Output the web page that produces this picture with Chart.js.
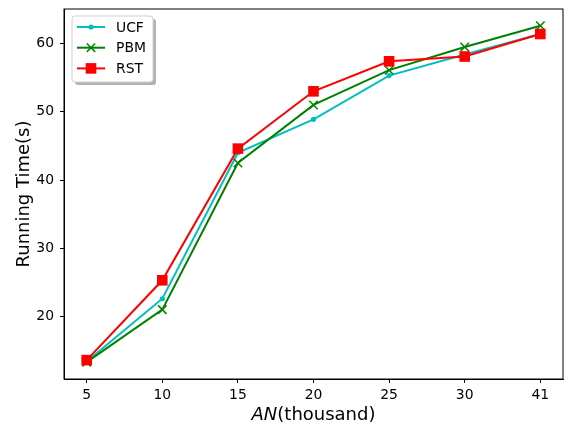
<!DOCTYPE html>
<html>
<head>
<meta charset="utf-8">
<script src="https://cdn.jsdelivr.net/npm/chart.js@4/dist/chart.umd.min.js"></script>
<style>
  html, body { margin: 0; padding: 0; background: #fff; }
  #wrap { width: 567px; height: 426px; position: relative; }
</style>
</head>
<body>
<div id="wrap"><canvas id="runChart"></canvas></div>
<script>
// values
var xLabels = ['5', '10', '15', '20', '25', '30', '41'];
var ucfTimes = [13.4, 22.6, 44.0, 48.9, 55.3, 58.4, 61.4];
var pbmTimes = [13.3, 21.0, 42.5, 51.0, 56.1, 59.5, 62.6];
var rstTimes = [13.6, 25.3, 44.6, 53.0, 57.4, 58.1, 61.4];
var yTicks = [20, 30, 40, 50, 60];

var FONT = "'DejaVu Sans', sans-serif";

function toPoints(arr) {
    return arr.map(function (v, i) { return { x: i, y: v }; });
}

// matplotlib style 5% margins
var all = ucfTimes.concat(pbmTimes, rstTimes);
var lo = Math.min.apply(null, all), hi = Math.max.apply(null, all);
var pad = (hi - lo) * 0.05;
var xPad = (xLabels.length - 1) * 0.05;

// frame around plot + x title with italic AN
var framePlugin = {
    id: 'frame',
    afterDatasetsDraw: function (chart) {
        var a = chart.chartArea, ctx = chart.ctx;
        ctx.save();
        ctx.strokeStyle = '#000';
        ctx.lineWidth = 1;
        ctx.strokeRect(a.left, a.top, a.right - a.left, a.bottom - a.top);

        ctx.fillStyle = '#000';
        ctx.textBaseline = 'middle';
        var f1 = 'italic 18px ' + FONT, f2 = '18px ' + FONT;
        ctx.font = f1;
        var w1 = ctx.measureText('AN').width;
        ctx.font = f2;
        var w2 = ctx.measureText('(thousand)').width;
        var x0 = (a.left + a.right) / 2 - (w1 + w2) / 2;
        var y0 = 415;
        ctx.font = f1;
        ctx.textAlign = 'left';
        ctx.fillText('AN', x0, y0);
        ctx.font = f2;
        ctx.fillText('(thousand)', x0 + w1, y0);
        ctx.restore();
    }
};

function drawMarker(ctx, style, x, y, color) {
    ctx.save();
    ctx.fillStyle = color;
    ctx.strokeStyle = color;
    if (style === 'circle') {
        ctx.beginPath();
        ctx.arc(x, y, 2.6, 0, Math.PI * 2);
        ctx.fill();
    } else if (style === 'cross') {
        ctx.lineWidth = 1.5;
        ctx.beginPath();
        ctx.moveTo(x - 4.2, y - 4.2); ctx.lineTo(x + 4.2, y + 4.2);
        ctx.moveTo(x - 4.2, y + 4.2); ctx.lineTo(x + 4.2, y - 4.2);
        ctx.stroke();
    } else {
        ctx.fillRect(x - 5.3, y - 5.3, 10.6, 10.6);
    }
    ctx.restore();
}

var legendPlugin = {
    id: 'boxLegend',
    afterDraw: function (chart) {
        var ctx = chart.ctx;
        var bx = 72, by = 16, bw = 81, bh = 66;
        ctx.save();
        // shadow
        ctx.fillStyle = 'rgba(0,0,0,0.3)';
        roundRect(ctx, bx + 3, by + 3, bw, bh, 3);
        ctx.fill();
        ctx.fillStyle = '#fff';
        ctx.strokeStyle = '#d0d0d0';
        ctx.lineWidth = 1;
        roundRect(ctx, bx, by, bw, bh, 3);
        ctx.fill();
        ctx.stroke();

        ctx.font = '13.9px ' + FONT;
        ctx.textBaseline = 'middle';
        ctx.textAlign = 'left';
        chart.data.datasets.forEach(function (ds, i) {
            var y = 27 + i * 20.7;
            ctx.strokeStyle = ds.borderColor;
            ctx.lineWidth = 2;
            ctx.beginPath();
            ctx.moveTo(77, y);
            ctx.lineTo(105, y);
            ctx.stroke();
            drawMarker(ctx, ds.legendMarker, 91, y, ds.borderColor);
            ctx.fillStyle = '#000';
            ctx.fillText(ds.label, 116, y + 1);
        });
        ctx.restore();
    }
};

function roundRect(ctx, x, y, w, h, r) {
    ctx.beginPath();
    ctx.moveTo(x + r, y);
    ctx.lineTo(x + w - r, y);
    ctx.quadraticCurveTo(x + w, y, x + w, y + r);
    ctx.lineTo(x + w, y + h - r);
    ctx.quadraticCurveTo(x + w, y + h, x + w - r, y + h);
    ctx.lineTo(x + r, y + h);
    ctx.quadraticCurveTo(x, y + h, x, y + h - r);
    ctx.lineTo(x, y + r);
    ctx.quadraticCurveTo(x, y, x + r, y);
    ctx.closePath();
}

var runData = {
    datasets: [
        {
            label: 'UCF', data: toPoints(ucfTimes), borderColor: '#00bfbf', backgroundColor: '#00bfbf',
            pointStyle: 'circle', pointRadius: 2.6, pointBorderWidth: 0, borderWidth: 2, legendMarker: 'circle', order: 3
        },
        {
            label: 'PBM', data: toPoints(pbmTimes), borderColor: '#008000', backgroundColor: '#008000',
            pointStyle: 'crossRot', pointRadius: 6, pointBorderWidth: 1.5, borderWidth: 2, legendMarker: 'cross', order: 2
        },
        {
            label: 'RST', data: toPoints(rstTimes), borderColor: '#ff0000', backgroundColor: '#ff0000',
            pointStyle: 'rect', pointRadius: 7.5, pointBorderWidth: 0, borderWidth: 2, legendMarker: 'rect', order: 1
        }
    ]
};

function noPad(scale) {
    scale.paddingTop = 0;
    scale.paddingBottom = 0;
    scale.paddingLeft = 0;
    scale.paddingRight = 0;
}

var runOptions = {
    responsive: true,
    maintainAspectRatio: false,
    animation: false,
    layout: { autoPadding: false, padding: { top: 9, right: 4, left: 0, bottom: 0 } },
    plugins: { legend: { display: false }, tooltip: { enabled: false } },
    elements: { line: { tension: 0, fill: false } },
    scales: {
        x: {
            type: 'linear',
            min: -xPad,
            max: xLabels.length - 1 + xPad,
            afterBuildTicks: function (scale) {
                scale.ticks = xLabels.map(function (_, i) { return { value: i }; });
            },
            afterFit: function (scale) { scale.height = 47; noPad(scale); },
            ticks: {
                color: '#000',
                font: { family: FONT, size: 13.9 },
                padding: 4,
                maxRotation: 0,
                callback: function (v) { return xLabels[v]; }
            },
            grid: { drawOnChartArea: false, drawTicks: true, tickLength: 4, color: '#000', lineWidth: 1 },
            border: { display: true, color: '#000', width: 1 }
        },
        y: {
            min: lo - pad,
            max: hi + pad,
            afterBuildTicks: function (scale) {
                scale.ticks = yTicks.map(function (v) { return { value: v }; });
            },
            afterFit: function (scale) { scale.width = 64; noPad(scale); },
            ticks: {
                color: '#000',
                font: { family: FONT, size: 13.9 },
                padding: 6
            },
            grid: { drawOnChartArea: false, drawTicks: true, tickLength: 4, color: '#000', lineWidth: 1 },
            border: { display: true, color: '#000', width: 1 },
            title: {
                display: true,
                text: 'Running Time(s)',
                color: '#000',
                font: { family: FONT, size: 18 },
                padding: { top: 14, bottom: 0 }
            }
        }
    }
};

var chart = new Chart(document.getElementById('runChart').getContext('2d'), {
    type: 'line',
    data: runData,
    options: runOptions,
    plugins: [framePlugin, legendPlugin]
});
</script>
</body>
</html>
